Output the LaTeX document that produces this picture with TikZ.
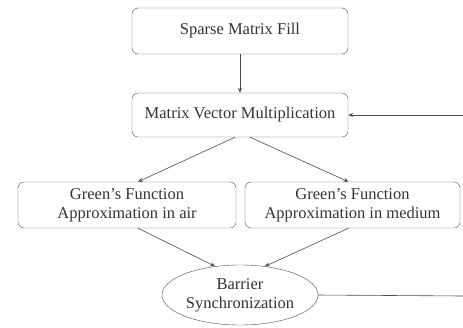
\documentclass[tikz,border=0pt]{standalone}
\usepackage{fontspec}
\setmainfont{Liberation Serif}
\usetikzlibrary{shapes.geometric,arrows.meta}
\begin{document}
\begin{tikzpicture}[x=1pt,y=-1pt,
  box/.style={draw=black!70,rounded corners=6pt,minimum width=216pt,minimum height=46pt,inner sep=0pt,align=center,font=\fontsize{16.5}{19}\selectfont,text=black!80},
  oval/.style={draw=black!70,ellipse,minimum width=156pt,minimum height=60pt,inner sep=0pt,align=center,font=\fontsize{16.5}{19}\selectfont,text=black!80},
  conn/.style={draw=black!70,line width=0.6pt,-{Stealth[length=5pt,width=4pt]}}]
\useasboundingbox (0,0) rectangle (463,327);
\node[box] (fill) at (240,31) {Sparse Matrix Fill};
\node[box,minimum height=44pt] (mvm) at (240,115) {Matrix Vector Multiplication};
\node[box,minimum width=218pt] (air) at (127,205) {Green's Function\\Approximation in air};
\node[box,minimum width=215pt] (med) at (352.5,205) {Green's Function\\Approximation in medium};
\node[oval] (bar) at (240,295) {Barrier\\Synchronization};
\coordinate (rin) at (463,115);
\coordinate (rout) at (463,296);
\draw[conn] (fill) -- (mvm);
\draw[conn] (rin) -- (mvm.east);
\draw[conn] ([xshift=-5pt]mvm.south) -- ([xshift=11pt]air.north);
\draw[conn] ([xshift=10pt]mvm.south) -- ([xshift=-4pt]med.north);
\draw[conn] ([xshift=11pt]air.south) -- (bar.131);
\draw[conn] ([xshift=-4pt]med.south) -- (bar.49);
\draw[draw=black!70,line width=0.6pt] (bar.east) -- (rout);
\end{tikzpicture}
\end{document}
